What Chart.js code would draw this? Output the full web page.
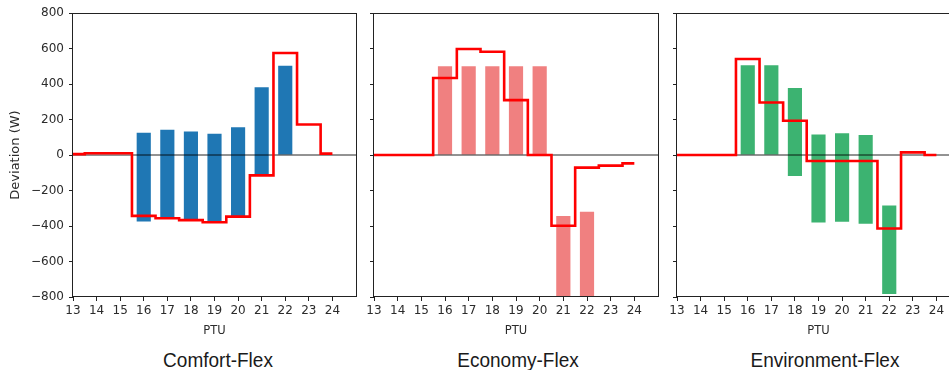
<!DOCTYPE html>
<html>
<head>
<meta charset="utf-8">
<script src="https://cdn.jsdelivr.net/npm/chart.js@4.4.1/dist/chart.umd.min.js"></script>
<style>
  html, body { margin: 0; padding: 0; background: #fff; }
  body { width: 949px; height: 370px; overflow: hidden; position: relative; }
  canvas { position: absolute; top: 0; }
  .name {
    position: absolute; top: 350px; width: 220px; margin-left: -110px;
    text-align: center; font-family: "Liberation Sans", Arial, sans-serif;
    font-size: 20px; line-height: 20px; color: #1a1a1a;
    transform: scaleX(0.95);
  }
</style>
</head>
<body>
<canvas id="comfort" width="360" height="345" style="left:0px"></canvas>
<canvas id="economy" width="300" height="345" style="left:362px"></canvas>
<canvas id="environment" width="300" height="345" style="left:665px"></canvas>
<div class="name" style="left:218px">Comfort-Flex</div>
<div class="name" style="left:518px">Economy-Flex</div>
<div class="name" style="left:825px">Environment-Flex</div>
<script>
// PTU axis and value axis
const PTU = [13, 14, 15, 16, 17, 18, 19, 20, 21, 22, 23, 24];
const X_TICKS = [13, 14, 15, 16, 17, 18, 19, 20, 21, 22, 23, 24];
const Y_TICKS = [-800, -600, -400, -200, 0, 200, 400, 600, 800];
const X_MIN = 13, X_MAX = 25;
const Y_MIN = -800, Y_MAX = 800;

// PTUs that carry a flexibility range bar
const BAR_PTU = [16, 17, 18, 19, 20, 21, 22];

// Comfort-Flex: flexibility range (low/high) and realised deviation
const COMFORT_LOW  = [-375, -356, -365, -380, -343, -110, 0];
const COMFORT_HIGH = [125, 142, 132, 120, 157, 382, 503];
const COMFORT_DEV  = [5, 10, 10, -343, -356, -367, -379, -347, -115, 575, 172, 8];

// Economy-Flex
const ECONOMY_LOW  = [0, 0, 0, 0, 0, -800, -800];
const ECONOMY_HIGH = [500, 500, 500, 500, 500, -343, -320];
const ECONOMY_DEV  = [0, 0, 0, 434, 597, 582, 309, 0, -399, -71, -60, -47];

// Environment-Flex
const ENVIRON_LOW  = [0, 0, -118, -380, -376, -388, -783];
const ENVIRON_HIGH = [505, 505, 378, 116, 122, 112, -285];
const ENVIRON_DEV  = [0, 0, 0, 541, 296, 193, -34, -34, -34, -414, 15, 0];

const INK = '#222';
const TEXT = '#2b2b2b';
const FONT = 'DejaVu Sans';

// full rectangular frame round the plotting area
const framePlugin = {
  id: 'frame',
  afterDraw(chart) {
    const a = chart.chartArea, ctx = chart.ctx;
    ctx.save();
    ctx.strokeStyle = INK;
    ctx.lineWidth = 1;
    ctx.strokeRect(Math.round(a.left) - 0.5, Math.round(a.top) + 0.5,
                   Math.round(a.right - a.left) + 1, Math.round(a.bottom - a.top) - 1);
    ctx.restore();
  }
};

function minus(v) { return String(v).replace('-', '\u2212'); }

function makePanel(id, cfg) {
  const bars = BAR_PTU.map((p, i) => ({ x: p, y: [cfg.low[i], cfg.high[i]] }));
  const dev = PTU.map((p, i) => ({ x: p, y: cfg.dev[i] }));
  const zero = [{ x: X_MIN, y: 0 }, { x: X_MAX, y: 0 }];

  new Chart(document.getElementById(id), {
    type: 'bar',
    data: {
      datasets: [
        { type: 'bar', data: bars, backgroundColor: cfg.color, borderWidth: 0,
          categoryPercentage: 1, barPercentage: 0.6, order: 3 },
        { type: 'line', data: zero, borderColor: 'rgba(0,0,0,0.85)', borderWidth: 1,
          pointRadius: 0, order: 2 },
        { type: 'line', data: dev, borderColor: '#ff0000', borderWidth: 2.6,
          stepped: 'middle', pointRadius: 0, borderJoinStyle: 'miter',
          borderCapStyle: 'butt', order: 1 }
      ]
    },
    options: {
      responsive: false,
      animation: false,
      devicePixelRatio: 1,
      layout: { padding: { left: 0, right: cfg.padRight, top: 13, bottom: 0 } },
      plugins: { legend: { display: false }, tooltip: { enabled: false } },
      scales: {
        x: {
          type: 'linear', min: X_MIN, max: X_MAX, offset: false,
          afterBuildTicks: s => { s.ticks = X_TICKS.map(v => ({ value: v })); },
          afterFit: s => { s.height = 48; },
          border: { display: false },
          grid: { display: true, offset: false, drawOnChartArea: false, drawTicks: true,
                  tickLength: 4, color: INK, lineWidth: 1 },
          ticks: { color: TEXT, padding: 3, maxRotation: 0, autoSkip: false,
                   font: { family: FONT, size: 12 } },
          title: { display: true, text: 'PTU', color: TEXT,
                   font: { family: FONT, size: 11.5 }, padding: { top: 0, bottom: 7.5 } }
        },
        y: {
          type: 'linear', min: Y_MIN, max: Y_MAX,
          afterBuildTicks: s => { s.ticks = Y_TICKS.map(v => ({ value: v })); },
          afterFit: s => { s.width = cfg.yWidth; },
          border: { display: false },
          grid: { display: true, drawOnChartArea: false, drawTicks: true,
                  tickLength: 4, color: INK, lineWidth: 1 },
          ticks: { display: cfg.showY, color: TEXT, padding: 5,
                   font: { family: FONT, size: 12 }, callback: v => minus(v) },
          title: { display: cfg.showY, text: 'Deviation (W)', color: TEXT,
                   font: { family: FONT, size: 13 }, padding: { top: 8, bottom: 0 } }
        }
      }
    },
    plugins: [framePlugin]
  });
}

makePanel('comfort', { low: COMFORT_LOW, high: COMFORT_HIGH, dev: COMFORT_DEV,
  color: '#1f77b4', showY: true, yWidth: 73, padRight: 4 });
makePanel('economy', { low: ECONOMY_LOW, high: ECONOMY_HIGH, dev: ECONOMY_DEV,
  color: '#f08080', showY: false, yWidth: 12, padRight: 4 });
makePanel('environment', { low: ENVIRON_LOW, high: ENVIRON_HIGH, dev: ENVIRON_DEV,
  color: '#3cb371', showY: false, yWidth: 12, padRight: 5 });
</script>
</body>
</html>
